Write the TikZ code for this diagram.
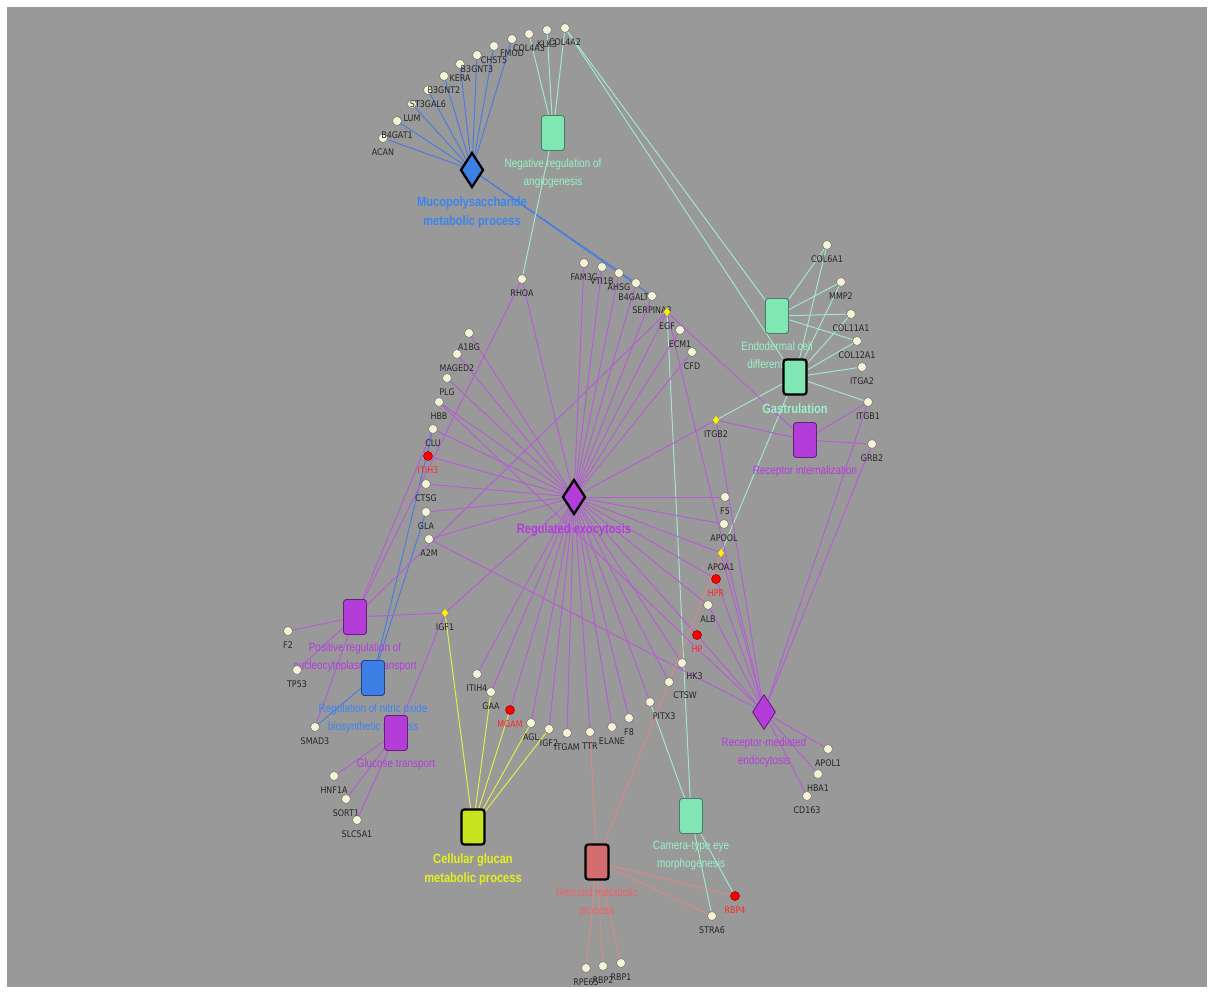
\documentclass[tikz,border=0pt]{standalone}
\usepackage{fontspec}
\usepackage{xcolor}
\usepackage{tikz}
\usetikzlibrary{shapes.geometric}
\newfontfamily\genefont[FakeStretch=0.87]{DejaVu Sans}
\newfontfamily\termfont[FakeStretch=0.82]{Liberation Sans}
\definecolor{canvas}{HTML}{999999}
\definecolor{cream}{HTML}{F5F3D6}
\definecolor{tpurple}{HTML}{B43CD8}
\definecolor{tgreen}{HTML}{80E6B4}
\definecolor{tblue}{HTML}{3C80E6}
\definecolor{tyellow}{HTML}{C8E41E}
\definecolor{tsalmon}{HTML}{D46E6E}
\definecolor{ptxt}{HTML}{B43CDC}
\definecolor{gtxt}{HTML}{98F2C8}
\definecolor{btxt}{HTML}{3C84F0}
\definecolor{ytxt}{HTML}{E6F01E}
\definecolor{stxt}{HTML}{EC6464}
\definecolor{redtxt}{HTML}{FF2828}
\definecolor{pline}{HTML}{B45ED2}
\definecolor{gline}{HTML}{A4E8CC}
\definecolor{bline}{HTML}{4A7CDC}
\definecolor{yline}{HTML}{E2F04A}
\definecolor{sline}{HTML}{D88A8A}
\pgfdeclarelayer{back}
\pgfdeclarelayer{edges}
\pgfsetlayers{back,edges,main}
% gene nodes: name doubles as label
\newcommand{\genenode}[3][below]{\node[gnode,label={[glab]#1:#2}] (#2) at (#3) {};}
\newcommand{\rednode}[2]{\node[gnode,fill=red,draw=red!55!black,label={[glab,text=redtxt]below:#1}] (#1) at (#2) {};}
\newcommand{\yelnode}[2]{\node[ynode,label={[glab]below:#1}] (#1) at (#2) {};}

\begin{document}
\begin{tikzpicture}[x=0.02cm,y=-0.02cm,label distance=2.7pt,
  gnode/.style={circle,draw=black!55,fill=cream,line width=0.3pt,minimum size=0.18cm,inner sep=0pt},
  ynode/.style={diamond,draw=black!45,fill=yellow,line width=0.3pt,minimum width=0.15cm,minimum height=0.2cm,inner sep=0pt},
  glab/.style={font=\genefont\fontsize{5.2}{6}\selectfont,text=black!85,inner sep=0.5pt,text height=3.8pt,text depth=0pt},
  term/.style={rectangle,rounded corners=1.6pt,minimum width=0.46cm,minimum height=0.7cm,inner sep=0pt,line width=0.5pt},
  dterm/.style={diamond,minimum width=0.46cm,minimum height=0.7cm,inner sep=0pt,line width=0.5pt},
  lead/.style={draw=black,line width=1.3pt},
  tlab/.style={font=\termfont\fontsize{6.9}{10.2}\selectfont,align=center,inner sep=0pt,yshift=-1.4pt},
  blab/.style={font=\termfont\bfseries\fontsize{7.7}{11.3}\selectfont,align=center,inner sep=0pt,yshift=-1.4pt},
  pedge/.style={draw=pline,line width=0.55pt},
  gedge/.style={draw=gline,line width=0.55pt},
  bedge/.style={draw=bline,line width=0.55pt},
  yedge/.style={draw=yline,line width=0.55pt},
  sedge/.style={draw=sline,line width=0.55pt}]
\useasboundingbox (0,0) rectangle (1213,992);
\begin{pgfonlayer}{back}
  \fill[canvas] (7,7) rectangle (1207,987);
\end{pgfonlayer}

% terms
\node[dterm,lead,fill=tblue,label={[blab,text=btxt]below:{Mucopolysaccharide\\metabolic process}}] (mucopoly) at (472,170) {};
\node[term,draw=tgreen!55!black,fill=tgreen,label={[tlab,text=gtxt]below:{Negative regulation of\\angiogenesis}}] (negangio) at (553,133) {};
\node[term,draw=tgreen!55!black,fill=tgreen,label={[tlab,text=gtxt]below:{Endodermal cell\\differentiation}}] (endoderm) at (777,316) {};
\node[term,lead,fill=tgreen,label={[blab,text=gtxt]below:Gastrulation}] (gastr) at (795,377) {};
\node[term,draw=tpurple!55!black,fill=tpurple,label={[tlab,text=ptxt]below:Receptor internalization}] (recint) at (805,440) {};
\node[dterm,lead,fill=tpurple,label={[blab,text=ptxt]below:Regulated exocytosis}] (rexo) at (574,497) {};
\node[term,draw=tpurple!55!black,fill=tpurple,label={[tlab,text=ptxt]below:{Positive regulation of\\nucleocytoplasmic transport}}] (posreg) at (355,617) {};
\node[term,draw=tblue!55!black,fill=tblue,label={[tlab,text=btxt]below:{Regulation of nitric oxide\\biosynthetic process}}] (nitric) at (373,678) {};
\node[term,draw=tpurple!55!black,fill=tpurple,label={[tlab,text=ptxt]below:Glucose transport}] (glucose) at (396,733) {};
\node[term,lead,fill=tyellow,label={[blab,text=ytxt]below:{Cellular glucan\\metabolic process}}] (glucan) at (473,827) {};
\node[term,lead,fill=tsalmon,label={[tlab,text=stxt]below:{Retinoid metabolic\\process}}] (retinoid) at (597,862) {};
\node[term,draw=tgreen!55!black,fill=tgreen,label={[tlab,text=gtxt]below:{Camera-type eye\\morphogenesis}}] (camera) at (691,816) {};
\node[dterm,draw=tpurple!55!black,fill=tpurple,label={[tlab,text=ptxt]below:{Receptor-mediated\\endocytosis}}] (rme) at (764,712) {};

% genes, top arc
\genenode{ACAN}{383,138}
\genenode{B4GAT1}{397,121}
\genenode{LUM}{412,104}
\genenode{ST3GAL6}{428,90}
\genenode{B3GNT2}{444,76}
\genenode{KERA}{460,64}
\genenode{B3GNT3}{477,55}
\genenode{CHST5}{494,46}
\genenode{FMOD}{512,39}
\genenode{COL4A3}{529,34}
\genenode{KLK3}{547,30}
\genenode{COL4A2}{565,28}
% middle top
\genenode{RHOA}{522,279}
\genenode{FAM3C}{584,263}
\genenode{VTI1B}{602,267}
\genenode{AHSG}{619,273}
\genenode{B4GALT1}{636,283}
\genenode{SERPINA3}{652,296}
\yelnode{EGF}{667,312}
\genenode{ECM1}{680,330}
\genenode{CFD}{692,352}
% left column
\genenode{A1BG}{469,333}
\genenode{MAGED2}{457,354}
\genenode{PLG}{447,378}
\genenode{HBB}{439,402}
\genenode{CLU}{433,429}
\rednode{ITIH3}{428,456}
\genenode{CTSG}{426,484}
\genenode{GLA}{426,512}
\genenode{A2M}{429,539}
% right column
\genenode{F5}{725,497}
\genenode{APOOL}{724,524}
\yelnode{APOA1}{721,553}
\rednode{HPR}{716,579}
\genenode{ALB}{708,605}
\rednode{HP}{697,635}
\genenode[-70]{HK3}{682,663}
\genenode[-70]{CTSW}{669,682}
\genenode[-80]{PITX3}{650,702}
% bottom arc
\genenode{ITIH4}{477,674}
\genenode{GAA}{491,692}
\rednode{MGAM}{510,710}
\genenode{AGL}{531,723}
\genenode{IGF2}{549,729}
\genenode{ITGAM}{567,733}
\genenode{TTR}{590,732}
\genenode{ELANE}{612,727}
\genenode{F8}{629,718}
% far right
\genenode{COL6A1}{827,245}
\genenode{MMP2}{841,282}
\genenode{COL11A1}{851,314}
\genenode{COL12A1}{857,341}
\genenode{ITGA2}{862,367}
\genenode{ITGB1}{868,402}
\genenode{GRB2}{872,444}
\yelnode{ITGB2}{716,420}
\genenode{APOL1}{828,749}
\genenode{HBA1}{818,774}
\genenode{CD163}{807,796}
% lower left
\yelnode{IGF1}{445,613}
\genenode{F2}{288,631}
\genenode{TP53}{297,670}
\genenode{SMAD3}{315,727}
\genenode{HNF1A}{334,776}
\genenode{SORT1}{346,799}
\genenode{SLC5A1}{357,820}
% bottom
\rednode{RBP4}{735,896}
\genenode{STRA6}{712,916}
\genenode{RPE65}{586,968}
\genenode{RBP2}{603,966}
\genenode{RBP1}{621,963}

\begin{pgfonlayer}{edges}
\foreach \g in {ACAN,B4GAT1,LUM,ST3GAL6,B3GNT2,KERA,B3GNT3,CHST5,FMOD,B4GALT1,SERPINA3}
  \draw[bedge] (mucopoly) -- (\g);
\foreach \g in {CLU,GLA,SMAD3}
  \draw[bedge] (nitric) -- (\g);
\foreach \g in {COL4A3,KLK3,COL4A2,RHOA}
  \draw[gedge] (negangio) -- (\g);
\foreach \g in {COL4A2,COL6A1,MMP2,COL11A1,COL12A1}
  \draw[gedge] (endoderm) -- (\g);
\foreach \g in {COL4A2,COL6A1,MMP2,COL11A1,COL12A1,ITGA2,ITGB1,ITGB2,APOA1}
  \draw[gedge] (gastr) -- (\g);
\foreach \g in {EGF,PITX3,RBP4,STRA6}
  \draw[gedge] (camera) -- (\g);
\foreach \g in {RHOA,FAM3C,VTI1B,AHSG,B4GALT1,SERPINA3,EGF,ECM1,CFD,A1BG,MAGED2,PLG,HBB,CLU,ITIH3,CTSG,GLA,A2M,IGF1,ITIH4,GAA,MGAM,AGL,IGF2,ITGAM,TTR,ELANE,F8,PITX3,CTSW,HK3,HP,ALB,HPR,APOA1,APOOL,F5,ITGB2}
  \draw[pedge] (rexo) -- (\g);
\foreach \g in {EGF,ITGB2,ITGB1,GRB2}
  \draw[pedge] (recint) -- (\g);
\foreach \g in {APOL1,HBA1,CD163,ALB,HP,HPR,APOA1,ITGB1,GRB2,HBB,A2M,EGF,ITGB2}
  \draw[pedge] (rme) -- (\g);
\foreach \g in {RHOA,EGF,CLU,IGF1,F2,TP53,SMAD3}
  \draw[pedge] (posreg) -- (\g);
\foreach \g in {IGF1,HNF1A,SORT1,SLC5A1}
  \draw[pedge] (glucose) -- (\g);
\foreach \g in {IGF1,GAA,MGAM,AGL,IGF2}
  \draw[yedge] (glucan) -- (\g);
\foreach \g in {TTR,APOA1,RBP4,STRA6,RPE65,RBP2,RBP1}
  \draw[sedge] (retinoid) -- (\g);
\end{pgfonlayer}
\end{tikzpicture}
\end{document}
